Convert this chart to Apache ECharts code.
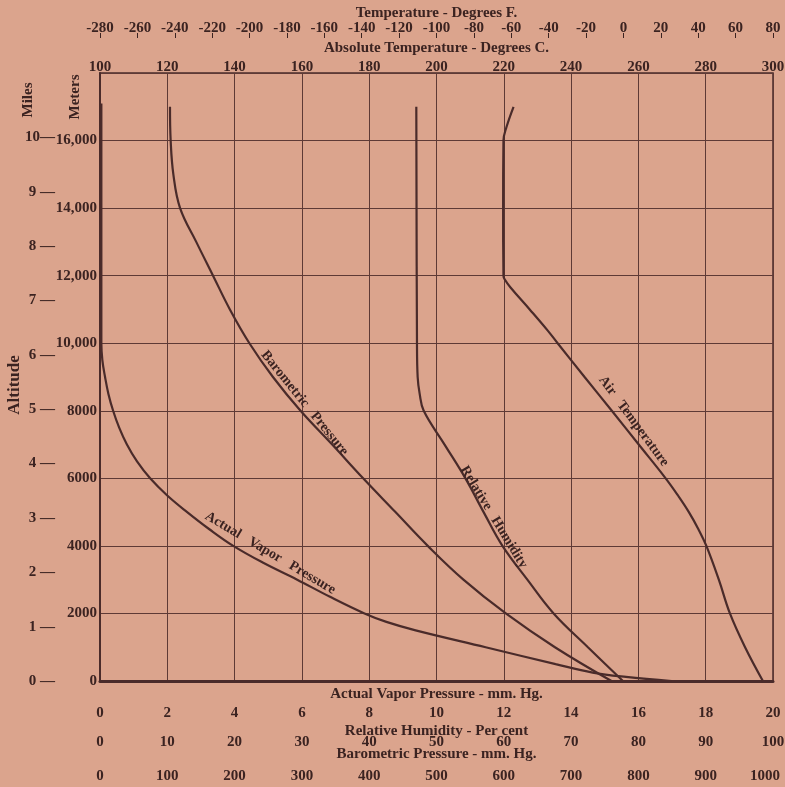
<!DOCTYPE html>
<html>
<head>
<meta charset="utf-8">
<script src="https://cdn.jsdelivr.net/npm/echarts@6/dist/echarts.min.js"></script>
<style>
html,body{margin:0;padding:0;background:#dba48d;}
#chart{width:785px;height:787px;}
</style>
</head>
<body>
<div id="chart"></div>
<script>
// ---- Data (altitude in meters) ----
const vaporAlt = [0, 120, 250, 500, 1000, 1500, 1750, 2000, 2500, 3000, 3500, 4000, 4500, 5000, 5500, 6000, 6500, 7000, 7500, 8000, 8500, 9000, 9500, 10000, 17100];
const vaporVal = [16.99, 15.63, 14.64, 13.54, 11.46, 9.38, 8.51, 7.86, 6.82, 5.86, 4.85, 3.96, 3.24, 2.59, 1.99, 1.49, 1.10, 0.80, 0.57, 0.39, 0.25, 0.15, 0.07, 0.04, 0.04];

const humidAlt = [0, 1000, 2000, 3000, 4000, 5000, 6000, 7000, 8000, 8500, 9000, 10000, 17000];
const humidVal = [77.7, 72.5, 67.4, 63.5, 59.8, 57.0, 54.3, 51.2, 48.1, 47.5, 47.2, 47.1, 47.0];

const baroAlt = [0, 1000, 2000, 3000, 4000, 5000, 6000, 7000, 8000, 9000, 10000, 11000, 12000, 13000, 14000, 15000, 16000, 17000];
const baroVal = [760, 676, 603, 540, 487, 439, 391, 345, 298, 257, 222, 193, 168, 143, 119, 109, 105, 104];

const tempAlt = [0, 1000, 2000, 3000, 4000, 4500, 5000, 5500, 6000, 7000, 8000, 9000, 10000, 10380, 11000, 11650, 11900, 12000, 14000, 16000, 16400, 17000];
const tempVal = [297.0, 291.7, 287.2, 283.9, 280.2, 277.8, 275.0, 271.7, 268.1, 260.1, 252.1, 244.0, 236.0, 233.0, 227.7, 222.0, 220.2, 219.9, 219.8, 219.9, 220.8, 222.9];

// tick ranges
const fahrenheitRange = [-280, 80];
const kelvinRange = [100, 300];
const vaporRange = [0, 20];
const humidRange = [0, 100];
const baroRange = [0, 1000];
const meterRange = [0, 18000];
const metersPerMile = 1609.344;

const INK = '#3b2321';
const LINE = '#4a2b2a';
const FONT = 'Liberation Serif';

function pairs(vals, alts) { return vals.map((v, i) => [v, alts[i]]); }

const tickFont = { fontFamily: FONT, fontWeight: 'bold', fontSize: 15, color: INK };
const nameFont = { fontFamily: FONT, fontWeight: 'bold', fontSize: 15, color: INK };
const curveLabel = (text, rot) => ({
  show: true, formatter: text, rotate: rot, position: 'inside',
  fontFamily: FONT, fontWeight: 'bold', fontSize: 14, color: INK
});
const mp = (coord, text, rot) => ({
  symbol: 'rect', symbolSize: 1, itemStyle: { color: 'rgba(0,0,0,0)' },
  data: [{ coord: coord, label: curveLabel(text, rot) }],
  label: curveLabel(text, rot), silent: true, animation: false
});

const chart = echarts.init(document.getElementById('chart'));
const option = {
  backgroundColor: '#dba48d',
  animation: false,
  grid: { left: 100, right: 12, top: 73, bottom: 106, show: true, borderColor: LINE, borderWidth: 1.5,
          containLabel: false, outerBoundsMode: 'none' },
  xAxis: [
    { // 0 vapor pressure (bottom)
      type: 'value', position: 'bottom', min: vaporRange[0], max: vaporRange[1], interval: 2,
      axisLine: { show: true, lineStyle: { color: LINE, width: 3 } },
      axisTick: { show: false },
      splitLine: { show: true, lineStyle: { color: '#5e3a36', width: 1 } },
      axisLabel: Object.assign({ margin: 25 }, tickFont),
      name: 'Actual Vapor Pressure - mm. Hg.', nameLocation: 'middle', nameGap: 6, nameMoveOverlap: false, nameTextStyle: nameFont
    },
    { // 1 relative humidity
      type: 'value', position: 'bottom', offset: 40, min: humidRange[0], max: humidRange[1], interval: 10,
      axisLine: { show: false }, axisTick: { show: false }, splitLine: { show: false },
      axisLabel: Object.assign({ margin: 14 }, tickFont),
      name: 'Relative Humidity - Per cent', nameLocation: 'middle', nameGap: 3, nameMoveOverlap: false, nameTextStyle: nameFont
    },
    { // 2 barometric pressure
      type: 'value', position: 'bottom', offset: 64, min: baroRange[0], max: baroRange[1], interval: 100,
      axisLine: { show: false }, axisTick: { show: false }, splitLine: { show: false },
      axisLabel: Object.assign({
        margin: 24,
        formatter: v => v >= baroRange[1] ? '{r|' + v + '}' : String(v),
        rich: { r: { padding: [0, 16, 0, 0], fontFamily: FONT, fontWeight: 'bold', fontSize: 15, color: INK } }
      }, tickFont),
      name: 'Barometric Pressure - mm. Hg.', nameLocation: 'middle', nameGap: 2, nameMoveOverlap: false, nameTextStyle: nameFont
    },
    { // 3 absolute temperature (top)
      type: 'value', position: 'top', min: kelvinRange[0], max: kelvinRange[1], interval: 20,
      axisLine: { show: false }, axisTick: { show: false }, splitLine: { show: false },
      axisLabel: Object.assign({ margin: -2 }, tickFont),
      name: 'Absolute Temperature - Degrees C.', nameLocation: 'middle', nameGap: 17, nameMoveOverlap: false, nameTextStyle: nameFont
    },
    { // 4 fahrenheit (top)
      type: 'value', position: 'top', offset: 40, min: fahrenheitRange[0], max: fahrenheitRange[1], interval: 20,
      axisLine: { show: false },
      axisTick: { show: true, inside: true, length: 5, lineStyle: { color: INK, width: 1 } },
      splitLine: { show: false },
      axisLabel: Object.assign({ margin: -3 }, tickFont),
      name: 'Temperature - Degrees F.', nameLocation: 'middle', nameGap: 12, nameMoveOverlap: false, nameTextStyle: nameFont
    }
  ],
  yAxis: [
    { // meters
      type: 'value', position: 'left', min: meterRange[0], max: meterRange[1], interval: 2000,
      axisLine: { show: true, lineStyle: { color: LINE, width: 2 } },
      axisTick: { show: false },
      splitLine: { show: true, lineStyle: { color: '#5e3a36', width: 1 } },
      axisLabel: Object.assign({
        margin: 3,
        formatter: v => v >= meterRange[1] ? '' : (v >= 10000 ? v.toLocaleString('en-US') : String(v))
      }, tickFont)
    },
    { // miles
      type: 'value', position: 'left', offset: 37, min: 0, max: meterRange[1] / metersPerMile, interval: 1,
      axisLine: { show: false }, axisTick: { show: false }, splitLine: { show: false },
      axisLabel: Object.assign({
        margin: 8,
        formatter: v => (v > 10.5 || Math.abs(v - Math.round(v)) > 1e-6) ? '' : (v >= 10 ? v + '—' : v + ' —')
      }, tickFont)
    }
  ],
  graphic: [
    { type: 'text', x: 28, y: 100, rotation: Math.PI / 2,
      style: { text: 'Miles', fill: INK, font: 'bold 15px "Liberation Serif"', align: 'center', verticalAlign: 'middle' } },
    { type: 'text', x: 75, y: 97, rotation: Math.PI / 2,
      style: { text: 'Meters', fill: INK, font: 'bold 15px "Liberation Serif"', align: 'center', verticalAlign: 'middle' } },
    { type: 'text', x: 15, y: 385, rotation: Math.PI / 2,
      style: { text: 'Altitude', fill: INK, font: 'bold 17px "Liberation Serif"', align: 'center', verticalAlign: 'middle' } }
  ],
  series: [
    { name: 'Actual Vapor Pressure', type: 'line', xAxisIndex: 0, yAxisIndex: 0,
      data: pairs(vaporVal, vaporAlt), showSymbol: false, smooth: 0.4,
      lineStyle: { color: LINE, width: 2.2 },
      markPoint: mp([5.06, 3787], 'Actual   Vapor   Pressure', -30.6) },
    { name: 'Relative Humidity', type: 'line', xAxisIndex: 1, yAxisIndex: 0,
      data: pairs(humidVal, humidAlt), showSymbol: false, smooth: 0.4,
      lineStyle: { color: LINE, width: 2.2 },
      markPoint: mp([58.5, 4852], 'Relative   Humidity', -58.7) },
    { name: 'Barometric Pressure', type: 'line', xAxisIndex: 2, yAxisIndex: 0,
      data: pairs(baroVal, baroAlt), showSymbol: false, smooth: 0.4,
      lineStyle: { color: LINE, width: 2.2 },
      markPoint: mp([304, 8225], 'Barometric   Pressure', -51) },
    { name: 'Air Temperature', type: 'line', xAxisIndex: 3, yAxisIndex: 0,
      data: pairs(tempVal, tempAlt), showSymbol: false, smooth: 0.4,
      lineStyle: { color: LINE, width: 2.2 },
      markPoint: mp([258.6, 7692], 'Air   Temperature', -53.6) }
  ]
};
chart.setOption(option);
</script>
</body>
</html>
